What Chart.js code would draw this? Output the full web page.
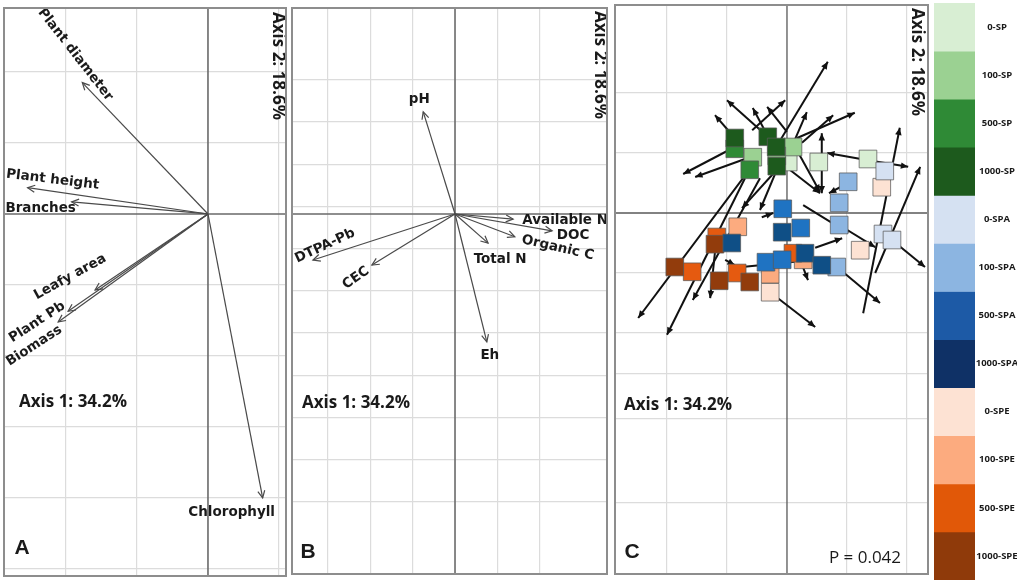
<!DOCTYPE html>
<html><head><meta charset="utf-8">
<script src="https://cdn.jsdelivr.net/npm/chart.js@4.4.1/dist/chart.umd.min.js"></script>
<style>
html,body{margin:0;padding:0;background:#fff;}
#wrap{position:relative;width:1017px;height:584px;overflow:hidden;background:#fff;}
canvas{position:absolute;}
</style></head><body>
<div id="wrap">
<canvas id="cA" width="284" height="570" style="left:3px;top:7px"></canvas>
<canvas id="cB" width="317" height="568" style="left:291px;top:7px"></canvas>
<canvas id="cC" width="315" height="571" style="left:614px;top:4px"></canvas>
<canvas id="cL" width="85" height="584" style="left:932px;top:0px"></canvas>
</div>
<script>
// ---------------- DATA ----------------
// Panel A: plant variables (loadings on Axis 1 / Axis 2)
const plantVars  = ['Plant diameter','Plant height','Branches','Leafy area','Plant Pb','Biomass','Chlorophyll'];
const plantAxis1 = [-1.77, -2.54, -1.92, -1.59, -1.97, -2.11, 0.77];
const plantAxis2 = [ 1.85,  0.37,  0.17, -1.07, -1.37, -1.52, -4.00];

// Panel B: soil variables
const soilVars  = ['pH','Available N','DOC','Organic C','Total N','DTPA-Pb','CEC','Eh'];
const soilAxis1 = [-0.75, 1.37, 2.29, 1.41, 0.78, -3.35, -1.96, 0.75];
const soilAxis2 = [ 2.42, -0.12, -0.40, -0.54, -0.69, -1.09, -1.21, -3.03];

// Panel C: treatment groups and samples
const groups = ['0-SP','100-SP','500-SP','1000-SP','0-SPA','100-SPA','500-SPA','1000-SPA','0-SPE','100-SPE','500-SPE','1000-SPE'];
const legendValue = [1,1,1,1,1,1,1,1,1,1,1,1];
const sampleGroup = [3,2,3,3,1,1,2,3,1,0,0,0, 4,5,5,5,4,4,6,7,6,7,6,6,7,5,7, 8,8,9,10,11,11,10,11,10,11,9,8,10,9];
const sampleAxis1 = [-0.87,-0.87,-0.32,-0.18,0.10,-0.57,-0.62,-0.17,-0.17,0.02,0.53,1.35,
                     1.63,1.02,0.87,0.87,1.60,1.75,-0.07,-0.08,0.23,0.30,-0.35,-0.08,0.58,0.83,-0.92,
                     1.58,1.22,-0.82,-1.17,-1.20,-1.87,-1.58,-1.13,-0.83,-0.62,-0.28,-0.28,0.10,0.27];
const sampleAxis2 = [1.25,1.07,1.27,1.10,1.10,0.93,0.72,0.78,0.95,0.85,0.85,0.90,
                     0.70,0.52,0.17,-0.20,-0.35,-0.45,0.07,-0.32,-0.25,-0.67,-0.82,-0.78,-0.87,-0.90,-0.50,
                     0.43,-0.62,-0.23,-0.40,-0.52,-0.90,-0.98,-1.13,-1.00,-1.15,-1.02,-1.32,-0.67,-0.78];
// Procrustes residual arrows (from -> to)
const arrowFrom1 = [-0.18,-0.32,-0.87,-0.33,0.00,-0.58,0.13,0.25,0.17,0.58,0.58,1.35,1.35,1.27,1.47,1.75,-0.87,-0.62,-0.62,-0.70,-0.45,-1.20,-0.17,-0.17,-0.12,0.18,1.02,0.87,0.80,-0.28,0.27,0.47,0.22,-0.75,-1.03,-0.42];
const arrowFrom2 = [1.10,1.27,1.25,1.30,1.35,1.38,1.22,1.17,1.25,0.85,0.85,0.88,0.88,-1.67,-1.00,-0.45,1.10,0.93,0.73,0.58,0.58,-0.65,0.72,0.72,0.85,1.02,0.50,-0.20,-0.87,-1.32,0.13,-0.58,-0.78,-0.90,-0.78,-0.07];
const arrowTo1   = [0.68,-1.00,-1.20,-0.57,-0.33,-0.03,0.33,0.77,1.13,0.58,0.58,0.67,2.02,1.88,2.22,2.30,-1.73,-1.53,-2.48,-2.00,-1.57,-1.28,-0.75,-0.45,0.55,0.55,0.70,1.47,1.55,0.47,1.02,0.92,0.35,0.47,-0.87,-0.23];
const arrowTo2   = [2.52,1.88,1.63,1.75,1.77,1.88,1.68,1.63,1.67,1.33,0.33,1.00,0.77,1.42,0.77,-0.90,0.65,0.60,-1.75,-2.03,-1.45,-1.42,0.08,0.05,0.33,0.35,0.33,-0.57,-1.50,-1.90,-0.33,-0.42,-1.12,-0.78,-0.87,0.00];

// Grid tick values (unlabelled)
const gridA_x = [-2,-1,1];
const gridA_y = [2,1,-1,-2,-3,-4,-5];
const gridB_x = [-3,-2,-1,1,2];
const gridB_y = [3.18,2.18,1.18,0.18,-0.82,-1.82,-2.82,-3.82,-4.82,-5.82,-6.82];
const gridC_x = [-2,-1,1,2];
const gridC_y = [2,1,-1,-2,-2.67,-3.42,-4.82];

// ---------------- STYLE ----------------
const groupColors = ['#d8eed3','#9bd192','#2f8a36','#1d5a1d','#d5e1f2','#8cb5e1','#1f73c2','#0f4f86','#fde2d3','#fcab7f','#e55a10','#923c0c'];
const legendColors = ['#d8eed3','#9bd192','#2f8a36','#1d5a1d','#d5e1f2','#8cb5e1','#1d5aa6','#0f3166','#fde2d3','#fcab7f','#e15808','#8f3a0a'];
const drawSequence = [8,9,10,11,0,1,2,3,4,5,6,7];
const labelLayoutA = {
  'Plant diameter':{dx:-7,dy:-28,rot:52},
  'Plant height':{dx:25,dy:-8,rot:7},
  'Branches':{dx:-31,dy:7,rot:0},
  'Leafy area':{dx:-25,dy:-13,rot:-29},
  'Plant Pb':{dx:-31,dy:11,rot:-33},
  'Biomass':{dx:-24,dy:24,rot:-33},
  'Chlorophyll':{dx:-31,dy:15,rot:0}
};
const labelLayoutB = {
  'pH':{dx:-4,dy:-12,rot:0},
  'Available N':{dx:52,dy:1,rot:0},
  'DOC':{dx:21,dy:5,rot:0},
  'Organic C':{dx:43,dy:11,rot:13},
  'Total N':{dx:12,dy:16,rot:0},
  'DTPA-Pb':{dx:12,dy:-14,rot:-25},
  'CEC':{dx:-16,dy:13,rot:-35},
  'Eh':{dx:3,dy:14,rot:0}
};
const VAR_FONT = 'bold 13.5px "DejaVu Sans"';
const AXIS_FONT = 'bold 17px "Open Sans"';
const LETTER_FONT = 'bold 21px "Liberation Sans"';
const TXT = '#1a1a1a';

function scaleOpts(min,max,grid){
  return {type:'linear',min:min,max:max,bounds:'data',
    ticks:{display:false},
    grid:{drawTicks:false,color:'#dcdcdc',lineWidth:1.2},
    border:{display:false},
    afterBuildTicks:function(s){ s.ticks = grid.map(v=>({value:v})); }};
}

function drawText(ctx,text,x,y,rot,font,align){
  ctx.save();
  ctx.translate(x,y);
  ctx.rotate((rot||0)*Math.PI/180);
  ctx.font=font; ctx.fillStyle=TXT;
  ctx.textAlign=align||'center'; ctx.textBaseline='middle';
  ctx.fillText(text,0,0);
  ctx.restore();
}

function panelPlugin(cfg){
  return {
    id:'panel'+cfg.name,
    beforeDatasetsDraw(chart){
      const {ctx,chartArea:a,scales} = chart;
      const x0=scales.x.getPixelForValue(0), y0=scales.y.getPixelForValue(0);
      ctx.save();
      ctx.strokeStyle=cfg.axisColor; ctx.lineWidth=cfg.axisWidth;
      ctx.beginPath();
      ctx.moveTo(x0,a.top); ctx.lineTo(x0,a.bottom);
      ctx.moveTo(a.left,y0); ctx.lineTo(a.right,y0);
      ctx.stroke(); ctx.restore();
    },
    afterDatasetDraw(chart,args){
      const ds=chart.data.datasets[args.index];
      if(!ds.arrow) return;
      const p=args.meta.data, p0=p[0], p1=p[1];
      const ang=Math.atan2(p1.y-p0.y,p1.x-p0.x);
      const ctx=chart.ctx;
      ctx.save();
      if(cfg.filledHead){
        const L=8, w=0.42;
        ctx.fillStyle=ds.borderColor;
        ctx.beginPath();
        ctx.moveTo(p1.x,p1.y);
        ctx.lineTo(p1.x-L*Math.cos(ang-w),p1.y-L*Math.sin(ang-w));
        ctx.lineTo(p1.x-L*Math.cos(ang+w),p1.y-L*Math.sin(ang+w));
        ctx.closePath(); ctx.fill();
      } else {
        const L=8, w=0.45;
        ctx.strokeStyle=ds.borderColor; ctx.lineWidth=1.2;
        ctx.beginPath();
        ctx.moveTo(p1.x-L*Math.cos(ang-w),p1.y-L*Math.sin(ang-w));
        ctx.lineTo(p1.x,p1.y);
        ctx.lineTo(p1.x-L*Math.cos(ang+w),p1.y-L*Math.sin(ang+w));
        ctx.stroke();
      }
      ctx.restore();
    },
    afterDatasetsDraw(chart){
      if(!cfg.layout) return;
      const ctx=chart.ctx;
      chart.data.datasets.forEach((ds,i)=>{
        if(!ds.varName) return;
        const m=chart.getDatasetMeta(i), tip=m.data[1], L=cfg.layout[ds.varName];
        drawText(ctx,ds.varName,tip.x+L.dx,tip.y+L.dy,L.rot,VAR_FONT);
      });
    },
    afterDraw(chart){
      const ctx=chart.ctx, a=chart.chartArea;
      cfg.texts.forEach(t=>drawText(ctx,t.text,t.x,t.y,t.rot,t.font,t.align));
      ctx.save();
      ctx.strokeStyle='#8d8d8d'; ctx.lineWidth=2;
      ctx.strokeRect(a.left+1,a.top+1,a.right-a.left-2,a.bottom-a.top-2);
      ctx.restore();
    }
  };
}

function vectorDatasets(names,ax1,ax2,color,width){
  return names.map((n,i)=>({
    varName:n, arrow:true, showLine:true,
    data:[{x:0,y:0},{x:ax1[i],y:ax2[i]}],
    borderColor:color, borderWidth:width, pointRadius:0, pointHoverRadius:0, fill:false
  }));
}

function baseOptions(xmin,xmax,ymin,ymax,gx,gy){
  return {
    responsive:false, animation:false, devicePixelRatio:1,
    layout:{padding:0, autoPadding:false},
    events:[],
    plugins:{legend:{display:false},tooltip:{enabled:false}},
    scales:{x:scaleOpts(xmin,xmax,gx), y:scaleOpts(ymin,ymax,gy)}
  };
}

// ---------------- PANEL A ----------------
new Chart(document.getElementById('cA'),{
  type:'scatter',
  data:{datasets:vectorDatasets(plantVars,plantAxis1,plantAxis2,'#4a4a4a',1.2)},
  options:baseOptions(-2.887,1.113,-5.113,2.915,gridA_x,gridA_y),
  plugins:[panelPlugin({name:'A',axisColor:'#6a6a6a',axisWidth:1.6,layout:labelLayoutA,texts:[
    {text:'Axis 2: 18.6%',x:275,y:59,rot:90,font:AXIS_FONT},
    {text:'Axis 1: 34.2%',x:70,y:395,rot:0,font:AXIS_FONT},
    {text:'A',x:19,y:541,rot:0,font:LETTER_FONT}
  ]})]
});

// ---------------- PANEL B ----------------
new Chart(document.getElementById('cB'),{
  type:'scatter',
  data:{datasets:vectorDatasets(soilVars,soilAxis1,soilAxis2,'#4a4a4a',1.2)},
  options:baseOptions(-3.868,3.608,-8.555,4.905,gridB_x,gridB_y),
  plugins:[panelPlugin({name:'B',axisColor:'#6a6a6a',axisWidth:1.6,layout:labelLayoutB,texts:[
    {text:'Axis 2: 18.6%',x:309,y:58,rot:90,font:AXIS_FONT},
    {text:'Axis 1: 34.2%',x:65,y:396,rot:0,font:AXIS_FONT},
    {text:'B',x:17,y:545,rot:0,font:LETTER_FONT}
  ]})]
});

// ---------------- PANEL C ----------------
const cDatasets = [];
arrowFrom1.forEach((v,i)=>{
  cDatasets.push({arrow:true, showLine:true,
    data:[{x:arrowFrom1[i],y:arrowFrom2[i]},{x:arrowTo1[i],y:arrowTo2[i]}],
    borderColor:'#111111', borderWidth:2, pointRadius:0, pointHoverRadius:0, fill:false, order:200});
});
drawSequence.forEach((g,k)=>{
  const pts=[];
  sampleGroup.forEach((sg,i)=>{ if(sg===g) pts.push({x:sampleAxis1[i],y:sampleAxis2[i]}); });
  cDatasets.push({label:groups[g], data:pts, pointStyle:'rect', pointRadius:12.5, pointHoverRadius:12.5,
    backgroundColor:groupColors[g], borderColor:'rgba(90,90,90,0.75)', borderWidth:1, order:50-k});
});
new Chart(document.getElementById('cC'),{
  type:'scatter',
  data:{datasets:cDatasets},
  options:baseOptions(-2.883,2.367,-6.033,3.483,gridC_x,gridC_y),
  plugins:[panelPlugin({name:'C',axisColor:'#5a5a5a',axisWidth:1.3,filledHead:true,texts:[
    {text:'Axis 2: 18.6%',x:303,y:58,rot:90,font:AXIS_FONT},
    {text:'Axis 1: 34.2%',x:64,y:401,rot:0,font:AXIS_FONT},
    {text:'C',x:18,y:548,rot:0,font:LETTER_FONT},
    {text:'P = 0.042',x:251,y:554,rot:0,font:'17px "Open Sans"'}
  ]})]
});

// ---------------- LEGEND ----------------
new Chart(document.getElementById('cL'),{
  type:'bar',
  data:{labels:['treatment'],datasets:groups.map((g,i)=>({label:g,data:[legendValue[i]],
    backgroundColor:legendColors[i],borderWidth:0,barPercentage:1,categoryPercentage:1}))},
  options:{responsive:false,animation:false,devicePixelRatio:1,events:[],
    layout:{padding:{left:2,right:42,top:3,bottom:4}},
    plugins:{legend:{display:false},tooltip:{enabled:false}},
    scales:{x:{display:false,stacked:true},y:{display:false,stacked:true,reverse:true,min:0,max:12}}},
  plugins:[{id:'legendLabels',afterDatasetsDraw(chart){
    const ctx=chart.ctx, a=chart.chartArea;
    chart.data.datasets.forEach((ds,i)=>{
      const el=chart.getDatasetMeta(i).data[0];
      drawText(ctx,ds.label,a.right+22,(el.y+el.base)/2,0,'bold 9.5px "Open Sans"');
    });
  }}]
});
</script>
</body></html>
